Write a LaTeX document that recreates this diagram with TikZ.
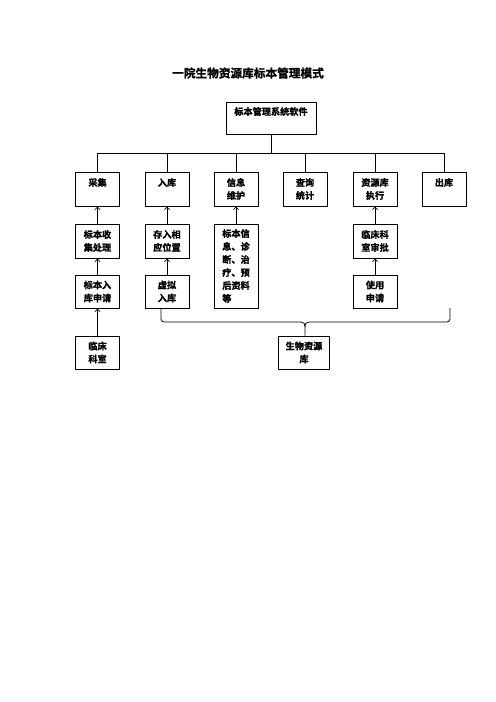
\documentclass[tikz,border=0pt]{standalone}
\usepackage{fontspec}
\newfontfamily\cjk[FakeBold=1.2]{Noto Sans CJK SC Bold}
\usetikzlibrary{arrows.meta}
\begin{document}
\begin{tikzpicture}[x=1.2pt,y=-1.2pt,
  box/.style={draw,line width=0.9pt,inner sep=0pt,minimum width=52.8pt,
    minimum height=40.8pt,align=center,
    font=\cjk\fontsize{11pt}{15.6pt}\selectfont},
  arr/.style={line width=0.9pt,-{Straight Barb[length=3.5pt,width=6pt,line width=0.8pt]}},
  ln/.style={line width=0.9pt}]
\useasboundingbox (0,0) rectangle (496,702);
\node[font=\cjk\fontsize{14pt}{16pt}\selectfont] (title) at (248,73) {一院生物资源库标本管理模式};
\node[box,minimum width=108pt,minimum height=38.4pt] (top) at (271,118) {标本管理系统软件\\\phantom{标}};
% row 1
\node[box] (c1) at (97.5,189) {采集\\\phantom{采}};
\node[box] (c2) at (167,189) {入库\\\phantom{入}};
\node[box] (c3) at (236,189) {信息\\维护};
\node[box] (c4) at (305,189) {查询\\统计};
\node[box] (c5) at (375,189) {资源库\\执行};
\node[box] (c6) at (444,189) {出库\\\phantom{出}};
% row 2
\node[box] (d1) at (97.5,241) {标本收\\集处理};
\node[box] (d2) at (167,241) {存入相\\应位置};
\node[box,minimum height=100.8pt,align=left] (d3) at (236,266) {标本信\\息、诊\\断、治\\疗、预\\后资料\\等};
\node[box] (d5) at (375,241) {临床科\\室审批};
% row 3
\node[box,minimum height=39.6pt] (e1) at (97.5,291.5) {标本入\\库申请};
\node[box,minimum height=39.6pt] (e2) at (167,291.5) {虚拟\\入库};
\node[box,minimum height=39.6pt] (e5) at (375,291.5) {使用\\申请};
% row 4
\node[box,minimum height=39.6pt] (f1) at (97.5,352.5) {临床\\科室};
\node[box,minimum width=61.2pt,minimum height=39.6pt] (sw) at (304,352.5) {生物资源\\库};
% bus
\coordinate (bus) at (0,153);
\draw[ln] (top.south) -- (top.south |- bus);
\draw[ln] (c1.north) -- (c1.north |- bus) -- (c6.north |- bus) -- (c6.north);
\foreach \n in {c2,c3,c4,c5} \draw[ln] (\n.north) -- (\n.north |- bus);
% arrows
\draw[arr] (d1.north) -- (c1.south);
\draw[arr] (e1.north) -- (d1.south);
\draw[arr] (f1.north) -- (e1.south);
\draw[arr] (d2.north) -- (c2.south);
\draw[arr] (e2.north) -- (d2.south);
\draw[arr] (d3.north) -- (c3.south);
\draw[arr] (d5.north) -- (c5.south);
\draw[arr] (e5.north) -- (d5.south);
% brace
\coordinate (bl) at (161,308);
\coordinate (br) at (450,308);
\draw[ln,rounded corners=3.6pt] (bl) -- (161,322) -- (301,322);
\draw[ln] (301,322) .. controls (303.5,322) and (305,323.5) .. (305,327) -- (sw.north -| 305,0);
\draw[ln] (309,322) .. controls (306.5,322) and (305,323.5) .. (305,327);
\draw[ln,rounded corners=3.6pt] (309,322) -- (450,322) -- (br);
\end{tikzpicture}
\end{document}
